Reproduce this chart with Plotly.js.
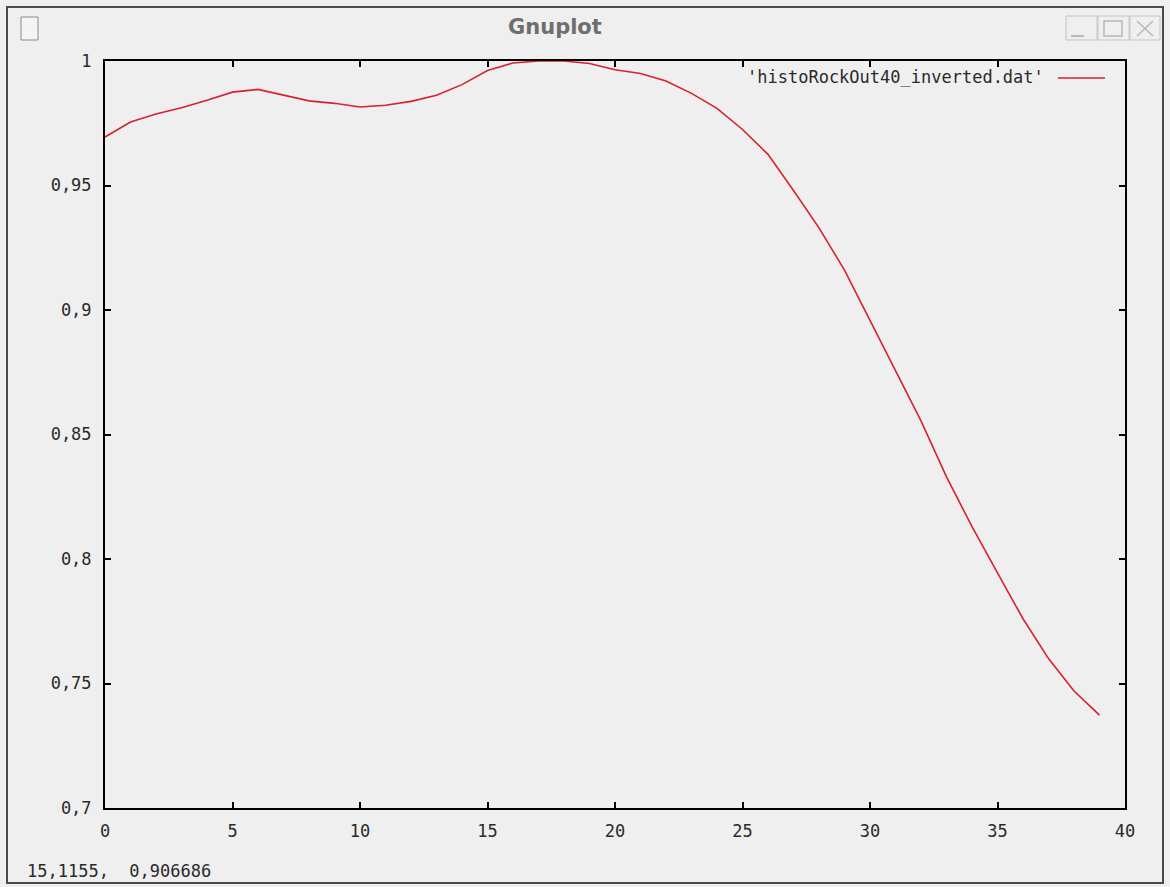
<!DOCTYPE html>
<html>
<head>
<meta charset="utf-8">
<script src="https://cdn.plot.ly/plotly-3.0.1.min.js"></script>
<style>
  html, body { margin: 0; padding: 0; background: #efefef; }
  #plot { width: 1170px; height: 887px; }
</style>
</head>
<body>
<div id="plot"></div>
<script>
// Normalised histogram values, one per bin (bins 0..39)
const bins = [
  0, 1, 2, 3, 4, 5, 6, 7, 8, 9,
  10, 11, 12, 13, 14, 15, 16, 17, 18, 19,
  20, 21, 22, 23, 24, 25, 26, 27, 28, 29,
  30, 31, 32, 33, 34, 35, 36, 37, 38, 39
];
const values = [
  0.9695, 0.9755, 0.9787, 0.9812, 0.9842, 0.9875, 0.9886, 0.9862, 0.9840, 0.9830,
  0.9815, 0.9822, 0.9838, 0.9862, 0.9905, 0.9962, 0.9992, 1.0000, 1.0000, 0.9990,
  0.9965, 0.9950, 0.9920, 0.9870, 0.9810, 0.9725, 0.9625, 0.9480, 0.9330, 0.9160,
  0.8960, 0.8760, 0.8555, 0.8330, 0.8130, 0.7944, 0.7760, 0.7600, 0.7470, 0.7373
];
const seriesName = "'histoRockOut40_inverted.dat'";

const xTickVals = [0, 5, 10, 15, 20, 25, 30, 35, 40];
const xTickText = ['0', '5', '10', '15', '20', '25', '30', '35', '40'];
const yTickVals = [0.7, 0.75, 0.8, 0.85, 0.9, 0.95, 1];
const yTickText = ['0,7', '0,75', '0,8', '0,85', '0,9', '0,95', '1'];

const windowTitle = 'Gnuplot';
const statusText = '15,1155,  0,906686';

// plot-area geometry in page pixels, used to place window decorations
const W = 1170, H = 887;
const L = 105, R = 1125, T = 61, B = 808;
const px = x => (x - L) / (R - L);
const py = y => (B - y) / (B - T);

const monoFont = { family: 'DejaVu Sans Mono, Liberation Mono, monospace', size: 17, color: '#2a2a2a' };

const trace = {
  x: bins,
  y: values,
  type: 'scatter',
  mode: 'lines',
  name: seriesName,
  line: { color: '#d8202e', width: 1.6 },
  showlegend: false,
  hoverinfo: 'x+y'
};

const shapes = [
  // window frame
  { type: 'rect', xref: 'paper', yref: 'paper', x0: px(7), x1: px(1163), y0: py(883), y1: py(7),
    line: { color: '#4a4a4a', width: 2 }, fillcolor: 'rgba(0,0,0,0)', layer: 'below' },
  // window icon
  { type: 'rect', xref: 'paper', yref: 'paper', x0: px(21), x1: px(38), y0: py(40), y1: py(17),
    line: { color: '#8a8a8a', width: 1 }, fillcolor: '#f4f4f4' },
  // title bar buttons
  { type: 'rect', xref: 'paper', yref: 'paper', x0: px(1066), x1: px(1097), y0: py(40), y1: py(16),
    line: { color: '#c4c4c4', width: 1 }, fillcolor: 'rgba(0,0,0,0)' },
  { type: 'line', xref: 'paper', yref: 'paper', x0: px(1071), x1: px(1084), y0: py(36), y1: py(36),
    line: { color: '#b8b8b8', width: 2 } },
  { type: 'rect', xref: 'paper', yref: 'paper', x0: px(1098), x1: px(1129), y0: py(40), y1: py(16),
    line: { color: '#c4c4c4', width: 1 }, fillcolor: 'rgba(0,0,0,0)' },
  { type: 'rect', xref: 'paper', yref: 'paper', x0: px(1104), x1: px(1122), y0: py(36), y1: py(21),
    line: { color: '#b8b8b8', width: 1.5 }, fillcolor: 'rgba(0,0,0,0)' },
  { type: 'rect', xref: 'paper', yref: 'paper', x0: px(1130), x1: px(1160), y0: py(40), y1: py(16),
    line: { color: '#c4c4c4', width: 1 }, fillcolor: 'rgba(0,0,0,0)' },
  { type: 'line', xref: 'paper', yref: 'paper', x0: px(1137), x1: px(1153), y0: py(21), y1: py(36),
    line: { color: '#b8b8b8', width: 1.5 } },
  { type: 'line', xref: 'paper', yref: 'paper', x0: px(1137), x1: px(1153), y0: py(36), y1: py(21),
    line: { color: '#b8b8b8', width: 1.5 } },
  // key sample line
  { type: 'line', xref: 'paper', yref: 'paper', x0: px(1058), x1: px(1105), y0: py(78), y1: py(78),
    line: { color: '#d8202e', width: 1.6 } }
];

const annotations = [
  { xref: 'paper', yref: 'paper', x: px(555), y: py(27), text: '<b>' + windowTitle + '</b>', showarrow: false,
    font: { family: 'DejaVu Sans, Liberation Sans, sans-serif', size: 21, color: '#6e6e6e' },
    xanchor: 'center', yanchor: 'middle' },
  { xref: 'paper', yref: 'paper', x: px(1046), y: py(77), text: seriesName, showarrow: false,
    font: monoFont, xanchor: 'right', yanchor: 'middle' },
  { xref: 'paper', yref: 'paper', x: px(25), y: py(871), text: statusText, showarrow: false,
    font: monoFont, xanchor: 'left', yanchor: 'middle' }
];

const layout = {
  width: W,
  height: H,
  margin: { l: L, r: W - R, t: T, b: H - B, pad: 0 },
  paper_bgcolor: '#efefef',
  plot_bgcolor: '#efefef',
  showlegend: false,
  xaxis: {
    range: [0, 40],
    tickvals: xTickVals,
    ticktext: xTickText,
    ticks: 'inside',
    ticklen: 6,
    tickwidth: 2,
    tickcolor: '#000',
    showline: true,
    linecolor: '#000',
    linewidth: 2,
    mirror: 'ticks',
    showgrid: false,
    zeroline: false,
    tickfont: monoFont,
    ticklabelstandoff: 7
  },
  yaxis: {
    range: [0.7, 1],
    tickvals: yTickVals,
    ticktext: yTickText,
    ticks: 'inside',
    ticklen: 6,
    tickwidth: 2,
    tickcolor: '#000',
    showline: true,
    linecolor: '#000',
    linewidth: 2,
    mirror: 'ticks',
    showgrid: false,
    zeroline: false,
    tickfont: monoFont,
    ticklabelstandoff: 8
  },
  shapes: shapes,
  annotations: annotations
};

Plotly.newPlot('plot', [trace], layout, { staticPlot: true, displayModeBar: false });
</script>
</body>
</html>
